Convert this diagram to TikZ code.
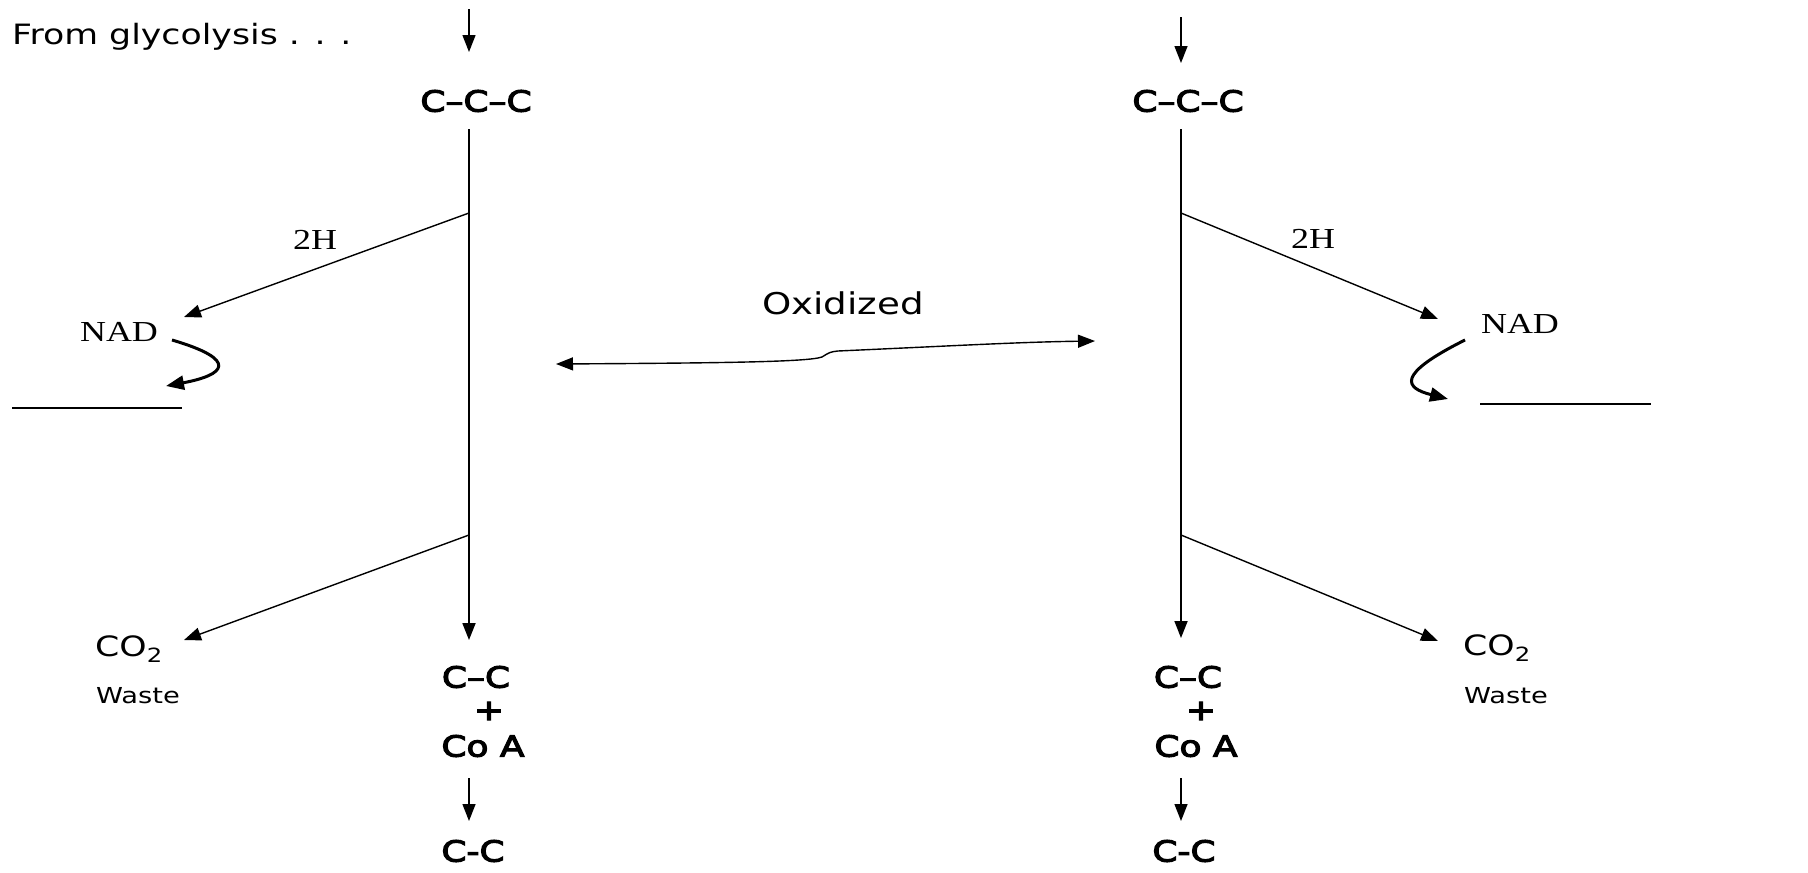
\documentclass[tikz,border=0pt]{standalone}
\usepackage{fontspec}
\setmainfont{DejaVu Sans}[FakeStretch=1.24]
\newfontfamily\srf{Liberation Serif}[FakeStretch=1.24]
\newfontfamily\chemf{DejaVu Sans}[FakeStretch=1.24,FakeBold=4]
\usetikzlibrary{arrows.meta}
\begin{document}
\begin{tikzpicture}[x=1pt,y=-1pt,
  txt/.style={inner sep=0pt,font=\fontsize{28}{30}\selectfont},
  chem/.style={inner sep=0pt,font=\fontsize{29}{32}\selectfont\chemf},
  ser/.style={inner sep=0pt,font=\fontsize{29}{32}\selectfont\srf},
  small/.style={inner sep=0pt,font=\fontsize{22}{24}\selectfont},
  tip/.style={-{Triangle[length=17pt,width=13pt]}},
  flow/.style={line width=1.4pt,tip},
  main/.style={line width=1.8pt,tip},
  curv/.style={line width=3pt,-{Triangle[length=18pt,width=14pt]}},
  uline/.style={line width=1.5pt}]
\useasboundingbox (0,0) rectangle (1808,873);
\fill[white] (0,0) rectangle (1808,873);

% text
\node[txt,anchor=west] (from) at (12,37) {From glycolysis . . .};
\node[txt,font=\fontsize{30}{32}\selectfont] (oxid) at (843,303) {Oxidized};

% left column
\coordinate (la0) at (469,9);
\coordinate (la1) at (469,52);
\node[chem] (ccc1) at (476,101) {C–C–C};
\coordinate (lv0) at (469,129);
\coordinate (lb1) at (469,213);
\coordinate (lb2) at (469,535);
\coordinate (lv1) at (469,640);
\coordinate (lnadtip) at (184,317);
\coordinate (lco2tip) at (184,640);
\node[ser] (l2h) at (315,240) {2H};
\node[ser] (lnad) at (119,332) {NAD};
\coordinate (lc0) at (172,340);
\coordinate (lc1) at (166,386);
\coordinate (lu0) at (12,408);
\coordinate (lu1) at (182,408);
\node[txt] (lco2) at (129,649) {CO\textsubscript{2}};
\node[small] (lwaste) at (138,696) {Waste};
\node[chem] (lcc) at (476,677) {C–C};
\node[chem] (lplus) at (489,711) {+};
\node[chem] (lcoa) at (483,746) {Co A};
\coordinate (lba0) at (469,778);
\coordinate (lba1) at (469,821);
\node[chem] (lccb) at (473,851) {C-C};

% right column
\coordinate (ra0) at (1181,17);
\coordinate (ra1) at (1181,63);
\node[chem] (ccc2) at (1188,101) {C–C–C};
\coordinate (rv0) at (1181,129);
\coordinate (rb1) at (1181,213);
\coordinate (rb2) at (1181,535);
\coordinate (rv1) at (1181,638);
\coordinate (rnadtip) at (1438,319);
\coordinate (rco2tip) at (1438,641);
\node[ser] (r2h) at (1313,239) {2H};
\node[ser] (rnad) at (1520,324) {NAD};
\coordinate (rc0) at (1465,340);
\coordinate (rc1) at (1448,399);
\coordinate (ru0) at (1480,404);
\coordinate (ru1) at (1651,404);
\node[txt] (rco2) at (1497,648) {CO\textsubscript{2}};
\node[small] (rwaste) at (1506,696) {Waste};
\node[chem] (rcc) at (1188,677) {C–C};
\node[chem] (rplus) at (1201,711) {+};
\node[chem] (rcoa) at (1196,746) {Co A};
\coordinate (rba0) at (1181,778);
\coordinate (rba1) at (1181,821);
\node[chem] (rccb) at (1184,851) {C-C};

% middle double arrow
\coordinate (mL) at (556,364);
\coordinate (mK1) at (822,357);
\coordinate (mK2) at (838,351);
\coordinate (mR) at (1095,341);

% connectors left
\draw[flow] (la0) -- (la1);
\draw[main] (lv0) -- (lv1);
\draw[flow] (lb1) -- (lnadtip);
\draw[flow] (lb2) -- (lco2tip);
\draw[curv] (lc0) .. controls (240,360) and (225,375) .. (lc1);
\draw[uline] (lu0) -- (lu1);
\draw[flow] (lba0) -- (lba1);

% connectors right
\draw[flow] (ra0) -- (ra1);
\draw[main] (rv0) -- (rv1);
\draw[flow] (rb1) -- (rnadtip);
\draw[flow] (rb2) -- (rco2tip);
\draw[curv] (rc0) .. controls (1395,375) and (1405,388) .. (rc1);
\draw[uline] (ru0) -- (ru1);
\draw[flow] (rba0) -- (rba1);

% middle
\draw[line width=1.4pt,{Triangle[length=17pt,width=13pt]}-{Triangle[length=17pt,width=13pt]}]
  (mL) .. controls (720,363) and (808,362) .. (mK1) .. controls (830,352) .. (mK2) .. controls (950,346) and (1020,342) .. (mR);
\end{tikzpicture}
\end{document}
